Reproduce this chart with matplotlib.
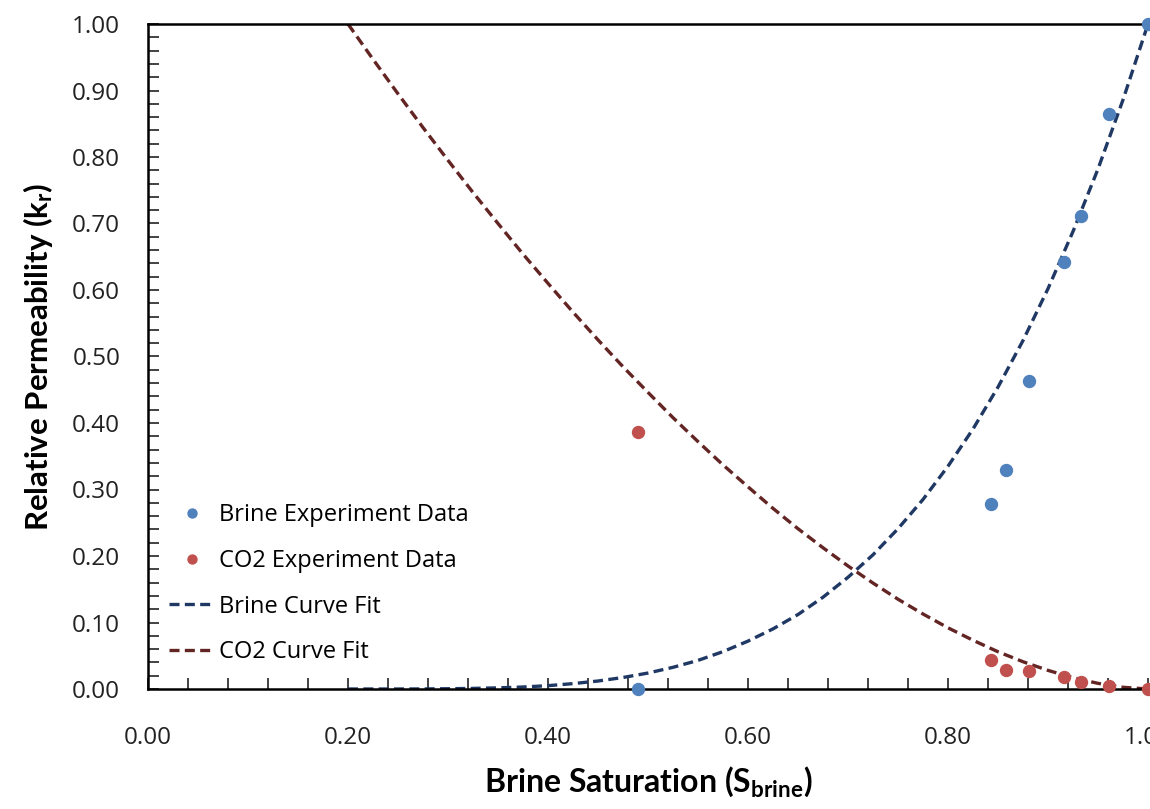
import matplotlib.pyplot as plt
from matplotlib.ticker import MultipleLocator, FormatStrFormatter

plt.rcParams['font.family'] = ['Open Sans', 'DejaVu Sans']
plt.rcParams['mathtext.fontset'] = 'custom'
plt.rcParams['mathtext.bf'] = 'Lato:bold'
plt.rcParams['mathtext.rm'] = 'Lato:bold'
plt.rcParams['mathtext.default'] = 'bf'

# experiment data
s_exp = [0.490, 0.843, 0.858, 0.881, 0.916, 0.933, 0.961, 1.000]
kr_brine = [0.000, 0.278, 0.330, 0.463, 0.642, 0.712, 0.864, 1.000]
kr_co2 = [0.387, 0.044, 0.028, 0.027, 0.018, 0.010, 0.004, 0.000]

# curve fits
s_fit = [0.200, 0.225, 0.250, 0.275, 0.300, 0.325, 0.350, 0.375, 0.400,
         0.425, 0.450, 0.475, 0.500, 0.525, 0.550, 0.575, 0.600, 0.625,
         0.650, 0.675, 0.700, 0.725, 0.750, 0.775, 0.800, 0.825, 0.850,
         0.875, 0.900, 0.925, 0.950, 0.975, 1.000]
brine_fit = [0.000, 0.000, 0.000, 0.0001, 0.0004, 0.0009, 0.0017, 0.003, 0.005,
             0.0081, 0.012, 0.0173, 0.024, 0.0326, 0.043, 0.0562, 0.072, 0.0904,
             0.112, 0.138, 0.168, 0.2018, 0.241, 0.285, 0.335, 0.391, 0.454,
             0.524, 0.602, 0.688, 0.782, 0.886, 1.000]
co2_fit = [1.000, 0.947, 0.895, 0.8443, 0.795, 0.7466, 0.700, 0.654, 0.610,
           0.5667, 0.525, 0.4846, 0.446, 0.408, 0.372, 0.337, 0.304, 0.2716,
           0.241, 0.2124, 0.185, 0.1593, 0.135, 0.1128, 0.092, 0.0733, 0.056,
           0.041, 0.028, 0.0171, 0.0085, 0.0026, 0.000]

fig = plt.figure(figsize=(11.5, 8.09), dpi=100)
ax = fig.add_axes([148/1150, 120/809, 1000/1150, 665/809])

ax.plot(s_exp, kr_brine, 'o', color='#4F81BD', ms=8.6, clip_on=False, zorder=3,
        label='Brine Experiment Data')
ax.plot(s_exp, kr_co2, 'o', color='#C0504D', ms=8.6, clip_on=False, zorder=3,
        label='CO2 Experiment Data')
ax.plot(s_fit, brine_fit, '--', color='#1F3864', lw=2.4, dashes=(3, 1.6),
        label='Brine Curve Fit')
ax.plot(s_fit, co2_fit, '--', color='#632523', lw=2.4, dashes=(3, 1.6),
        label='CO2 Curve Fit')

ax.set_xlim(0, 1.0)
ax.set_ylim(0, 1.0)
ax.xaxis.set_major_locator(MultipleLocator(0.2))
ax.xaxis.set_minor_locator(MultipleLocator(0.04))
ax.yaxis.set_major_locator(MultipleLocator(0.1))
ax.yaxis.set_minor_locator(MultipleLocator(0.02))
ax.xaxis.set_major_formatter(FormatStrFormatter('%.2f'))
ax.yaxis.set_major_formatter(FormatStrFormatter('%.2f'))
ax.tick_params(which='both', direction='in', labelsize=17.5, width=1.2, colors='#222222')
ax.tick_params(which='major', length=8)
ax.tick_params(which='minor', length=8)
ax.tick_params(axis='x', pad=27)
ax.tick_params(axis='y', pad=20)
for sp in ax.spines.values():
    sp.set_linewidth(1.8)
ax.spines['right'].set_visible(False)

ax.set_xlabel(r'Brine Saturation (S$_{brine}$)', fontsize=23, fontweight='bold',
              family='Lato', labelpad=10)
ax.set_ylabel(r'Relative Permeability (k$_{r}$)', fontsize=22.5, fontweight='bold',
              family='Lato', labelpad=12)

ax.legend(loc='lower left', bbox_to_anchor=(0.0, 0.005), frameon=False,
          fontsize=17, handlelength=1.9, handletextpad=0.2, labelspacing=0.92,
          markerscale=0.75)

fig.savefig('out.png', dpi=100)
